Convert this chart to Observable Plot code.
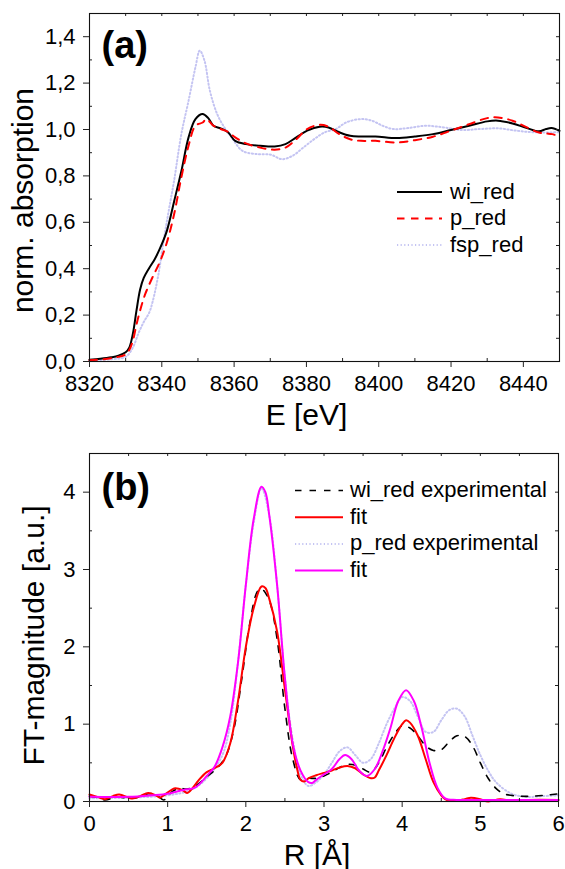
<!DOCTYPE html>
<html><head><meta charset="utf-8">
<script src="https://cdn.jsdelivr.net/npm/d3@7"></script>
<script src="https://cdn.jsdelivr.net/npm/@observablehq/plot@0.6"></script>
<style>
body{margin:0;background:#fff;}
#wrap{position:relative;width:565px;height:869px;}
#wrap svg{position:absolute;left:0;}
</style></head><body><div id="wrap"></div>
<script>
const FONT = '"Liberation Sans", Arial, Helvetica, sans-serif';

// ---------- Panel (a): XANES ----------
const wiRedE  = [8320,8323,8326,8328,8330,8331,8332,8333,8334,8335,8336.4,8338,8339.4,8341.4,8343.4,8345.4,8347.4,8349.3,8351.3,8352.8,8354.3,8356.3,8358.3,8360.3,8363.3,8367.2,8371.2,8374.2,8377.2,8380.2,8383.7,8386.1,8389.1,8392.1,8395.1,8399.1,8405,8410,8415,8420,8425,8430,8433,8437,8441,8444.3,8446.3,8447.8,8450];
const wiRedMu = [0.008,0.012,0.018,0.025,0.04,0.06,0.12,0.22,0.31,0.36,0.40,0.44,0.484,0.563,0.69,0.82,0.966,1.045,1.067,1.05,1.016,1.005,0.988,0.951,0.937,0.93,0.927,0.937,0.966,0.995,1.012,1.009,0.988,0.973,0.970,0.970,0.963,0.970,0.980,0.998,1.016,1.035,1.038,1.026,1.006,0.992,1.002,1.006,0.994];

const pRedE  = [8320,8325,8328,8330,8331,8332,8333,8334,8335.4,8337.4,8339.4,8341.4,8343.4,8345.4,8347.4,8349.3,8351.3,8352.3,8354.3,8356.3,8358.3,8360.3,8363.3,8367.2,8371.2,8374.2,8377.2,8380.2,8383.7,8386.1,8389.1,8392.1,8395.1,8399.1,8405,8410,8415,8420,8425,8430,8433,8437,8441,8444.3,8446.3,8448,8450];
const pRedMu = [0.005,0.012,0.02,0.03,0.05,0.09,0.16,0.22,0.29,0.362,0.427,0.513,0.635,0.793,0.93,1.016,1.03,1.045,1.016,1.002,0.99,0.966,0.94,0.922,0.913,0.922,0.958,1.002,1.02,1.012,0.98,0.958,0.951,0.951,0.944,0.954,0.969,0.995,1.023,1.049,1.052,1.038,1.009,0.987,0.983,0.98,0.969];

const fspRedE  = [8320,8326,8330,8332,8333.5,8335,8336.5,8337.5,8339,8340.5,8341.8,8343.4,8345.4,8347.4,8349.3,8350.5,8351.8,8353.3,8355.3,8357.3,8359.3,8362.3,8366.2,8370.2,8373.2,8376.2,8379.2,8382.2,8385.1,8388.1,8391.1,8395.1,8398.1,8401.1,8404,8408,8413,8418,8423,8428,8433,8438,8443,8450];
const fspRedMu = [0.005,0.01,0.02,0.06,0.12,0.17,0.21,0.26,0.37,0.52,0.64,0.78,0.98,1.124,1.268,1.34,1.297,1.167,1.067,1.009,0.966,0.908,0.894,0.891,0.872,0.887,0.923,0.959,0.988,1.002,1.031,1.045,1.038,1.016,1.002,1.006,1.016,1.009,0.998,1.002,1.005,0.995,0.988,0.988];

const aXDomain = [8320, 8450];
const aYDomain = [0, 1.5];
const aXTicks = [8320,8340,8360,8380,8400,8420,8440];
const aXMinor = [8330,8350,8370,8390,8410,8430,8450];
const aYTicks = [0,0.2,0.4,0.6,0.8,1.0,1.2,1.4];
const aYMinor = [0.1,0.3,0.5,0.7,0.9,1.1,1.3,1.5];
const aLegend = ["wi_red","p_red","fsp_red"];

// ---------- Panel (b): FT magnitude ----------
const wiExpR = [0,0.1,0.2,0.35,0.5,0.6,0.75,0.85,0.95,1.05,1.15,1.25,1.35,1.5,1.65,1.75,1.85,1.95,2.05,2.15,2.2,2.3,2.4,2.5,2.6,2.7,2.8,2.9,3.0,3.1,3.2,3.3,3.4,3.5,3.6,3.7,3.8,3.9,4.0,4.1,4.2,4.3,4.4,4.5,4.6,4.7,4.8,4.9,5.0,5.1,5.2,5.3,5.5,5.7,6.0];
const wiExpF = [0.07,0.05,0.02,0.06,0.04,0.05,0.10,0.09,0.02,0.12,0.17,0.16,0.20,0.32,0.45,0.60,0.95,1.60,2.30,2.72,2.75,2.60,2.10,1.20,0.55,0.28,0.30,0.30,0.33,0.38,0.44,0.48,0.47,0.42,0.38,0.50,0.70,0.87,0.98,0.95,0.85,0.72,0.66,0.67,0.77,0.85,0.84,0.72,0.50,0.30,0.17,0.10,0.07,0.07,0.10];

const wiFitR = [0,0.1,0.2,0.3,0.38,0.5,0.55,0.65,0.75,0.85,0.9,0.95,1.05,1.1,1.2,1.25,1.3,1.4,1.5,1.6,1.7,1.8,1.9,2.0,2.1,2.2,2.25,2.3,2.4,2.5,2.6,2.65,2.7,2.75,2.8,2.9,3.0,3.1,3.2,3.3,3.4,3.5,3.6,3.65,3.7,3.8,3.9,4.0,4.05,4.1,4.2,4.3,4.4,4.5,4.55,4.6,4.7,4.8,4.88,5.0,5.1,5.25,5.4,5.6,6.0];
const wiFitF = [0.09,0.06,0.03,0.07,0.09,0.05,0.04,0.07,0.11,0.08,0.05,0.08,0.15,0.17,0.14,0.11,0.15,0.28,0.38,0.43,0.50,0.75,1.30,2.00,2.50,2.78,2.76,2.62,2.20,1.45,0.72,0.45,0.28,0.26,0.30,0.34,0.37,0.40,0.44,0.46,0.43,0.35,0.30,0.31,0.40,0.60,0.82,1.00,1.05,1.02,0.85,0.55,0.25,0.08,0.03,0.01,0.01,0.03,0.05,0.03,0.00,0.03,0.01,0.02,0.02];

const pExpR = [0,0.5,1.0,1.3,1.5,1.7,1.8,1.9,2.0,2.1,2.2,2.3,2.4,2.5,2.6,2.7,2.8,2.9,3.0,3.1,3.2,3.3,3.4,3.5,3.6,3.7,3.8,3.9,4.0,4.1,4.2,4.3,4.4,4.5,4.6,4.7,4.8,4.9,5.0,5.1,5.2,5.4,5.6,5.8,6.0];
const pExpF = [0.04,0.05,0.08,0.15,0.30,0.60,1.00,1.80,2.80,3.60,4.05,3.70,2.80,1.60,0.80,0.35,0.20,0.25,0.35,0.50,0.65,0.70,0.60,0.50,0.55,0.75,1.00,1.20,1.35,1.30,1.10,0.90,0.90,1.05,1.18,1.20,1.10,0.85,0.60,0.40,0.25,0.10,0.06,0.07,0.08];

const pFitR = [0,0.5,0.8,1.0,1.2,1.35,1.5,1.6,1.7,1.8,1.9,2.0,2.1,2.2,2.25,2.3,2.4,2.5,2.6,2.7,2.8,2.85,2.9,3.0,3.1,3.2,3.27,3.35,3.45,3.55,3.65,3.75,3.85,3.95,4.05,4.15,4.25,4.35,4.45,4.55,4.7,5.0,6.0];
const pFitF = [0.06,0.06,0.08,0.10,0.15,0.18,0.33,0.45,0.70,1.10,1.80,2.80,3.65,4.07,4.00,3.70,2.80,1.60,0.75,0.40,0.25,0.24,0.28,0.35,0.42,0.55,0.60,0.55,0.40,0.33,0.42,0.65,0.95,1.30,1.44,1.30,0.95,0.50,0.18,0.04,0.02,0.02,0.02];

const bXDomain = [0, 6];
const bYDomain = [0, 4.5];
const bXTicks = [0,1,2,3,4,5,6];
const bXMinor = [0.5,1.5,2.5,3.5,4.5,5.5];
const bYTicks = [0,1,2,3,4];
const bYMinor = [0.5,1.5,2.5,3.5,4.5];
const bLegend = ["wi_red experimental","fit","p_red experimental","fit"];

// ---------- styles ----------
const BLACK = "#000", RED = "#ff0000", MAGENTA = "#ff00ff", PALE = "#c4c4f2";
const DOT = "1.2,2.4";

function zip(xs, ys, s) { return xs.map((x, i) => ({x, y: ys[i], s})); }

function framePieces(xAll, xMinor, yAll, yMinor, FW, FH) {
  const st = {stroke: "#222", strokeWidth: 1};
  return [
    Plot.tickX(xAll, {x: d => d, insetBottom: FH - 3, ...st}),
    Plot.tickX(xMinor, {x: d => d, insetTop: FH - 3, ...st}),
    Plot.tickY(yAll, {y: d => d, insetLeft: FW - 3, ...st}),
    Plot.tickY(yMinor, {y: d => d, insetRight: FW - 3, ...st}),
    Plot.frame({stroke: "#111", strokeWidth: 1.1})
  ];
}

function addLegend(svg, items, x1, x2, tx, baselines) {
  const g = d3.select(svg).append("g")
    .attr("font-family", FONT).attr("font-size", 22).attr("text-anchor", "start");
  items.forEach((it, i) => {
    const yl = baselines[i] - 6.5;
    g.append("line").attr("x1", x1).attr("x2", x2).attr("y1", yl).attr("y2", yl)
      .attr("stroke", it.color).attr("stroke-width", it.width)
      .attr("stroke-dasharray", it.dash || null);
    g.append("text").attr("x", tx).attr("y", baselines[i]).attr("fill", "#000")
      .attr("text-anchor", "start").text(it.label);
  });
}

const wrap = document.getElementById("wrap");

// ---------- Plot (a) ----------
const aW = 565, aH = 440, aML = 89, aMR = 6, aMT = 13, aMB = 79;
const aFW = aW - aML - aMR, aFH = aH - aMT - aMB;
const aData = [
  ...zip(wiRedE, wiRedMu, aLegend[0]),
  ...zip(pRedE, pRedMu, aLegend[1]),
  ...zip(fspRedE, fspRedMu, aLegend[2])
];
const plotA = Plot.plot({
  width: aW, height: aH,
  marginLeft: aML, marginRight: aMR, marginTop: aMT, marginBottom: aMB,
  style: {fontFamily: FONT, color: "#000", background: "transparent", overflow: "visible"},
  x: {domain: aXDomain},
  y: {domain: aYDomain},
  marks: [
    Plot.line(aData.filter(d => d.s === aLegend[2]), {x: "x", y: "y", stroke: PALE, strokeWidth: 2, strokeDasharray: DOT, curve: "catmull-rom"}),
    Plot.line(aData.filter(d => d.s === aLegend[0]), {x: "x", y: "y", stroke: BLACK, strokeWidth: 2, curve: "catmull-rom"}),
    Plot.line(aData.filter(d => d.s === aLegend[1]), {x: "x", y: "y", stroke: RED, strokeWidth: 2, strokeDasharray: "7.5,6.5", curve: "catmull-rom"}),
    ...framePieces([...aXTicks, ...aXMinor], aXMinor, [...aYTicks, ...aYMinor], aYMinor, aFW, aFH),
    Plot.axisX(aXTicks, {tickSize: 6, tickPadding: 8, fontSize: 22, label: null, tickFormat: d => String(d), stroke: "#222"}),
    Plot.axisY(aYTicks, {tickSize: 6, tickPadding: 8, fontSize: 22, label: null, tickFormat: d => d.toFixed(1).replace(".", ","), stroke: "#222"}),
    Plot.text(["E [eV]"], {frameAnchor: "bottom", text: d => d, dx: -18, dy: 63, lineAnchor: "bottom", fontSize: 30, fill: "#000"}),
    Plot.text(["norm. absorption"], {frameAnchor: "left", text: d => d, rotate: -90, dx: -57, dy: 13, lineAnchor: "bottom", textAnchor: "middle", fontSize: 30, fill: "#000"}),
    Plot.text(["(a)"], {frameAnchor: "top-left", text: d => d, dx: 12, dy: 44, textAnchor: "start", lineAnchor: "bottom", fontSize: 38, fontWeight: "bold", fill: "#000"})
  ]
});
plotA.style.top = "0px";
addLegend(plotA, [
  {label: aLegend[0], color: BLACK, width: 2},
  {label: aLegend[1], color: RED, width: 2, dash: "7.5,6.5"},
  {label: aLegend[2], color: PALE, width: 2, dash: DOT}
], 397, 442, 450, [198.5, 225, 251.5]);
wrap.appendChild(plotA);

// ---------- Plot (b) ----------
const bTop = 440;
const bW = 565, bH = 429, bML = 89, bMR = 7, bMT = 13, bMB = 68;
const bFW = bW - bML - bMR, bFH = bH - bMT - bMB;
const bData = [
  ...zip(wiExpR, wiExpF, "wiExp"),
  ...zip(wiFitR, wiFitF, "wiFit"),
  ...zip(pExpR, pExpF, "pExp"),
  ...zip(pFitR, pFitF, "pFit")
];
const plotB = Plot.plot({
  width: bW, height: bH,
  marginLeft: bML, marginRight: bMR, marginTop: bMT, marginBottom: bMB,
  style: {fontFamily: FONT, color: "#000", background: "transparent", overflow: "visible"},
  x: {domain: bXDomain},
  y: {domain: bYDomain},
  marks: [
    Plot.line(bData.filter(d => d.s === "pExp"), {x: "x", y: "y", stroke: PALE, strokeWidth: 2, strokeDasharray: DOT, curve: "catmull-rom"}),
    Plot.line(bData.filter(d => d.s === "wiExp"), {x: "x", y: "y", stroke: BLACK, strokeWidth: 1.6, strokeDasharray: "6.5,8", curve: "catmull-rom"}),
    Plot.line(bData.filter(d => d.s === "wiFit"), {x: "x", y: "y", stroke: RED, strokeWidth: 2, curve: "catmull-rom"}),
    Plot.line(bData.filter(d => d.s === "pFit"), {x: "x", y: "y", stroke: MAGENTA, strokeWidth: 2, curve: "catmull-rom"}),
    ...framePieces([...bXTicks, ...bXMinor], bXMinor, [...bYTicks, ...bYMinor], bYMinor, bFW, bFH),
    Plot.axisX(bXTicks, {tickSize: 6, tickPadding: 8, fontSize: 22, label: null, tickFormat: d => String(d), stroke: "#222"}),
    Plot.axisY(bYTicks, {tickSize: 6, tickPadding: 8, fontSize: 22, label: null, tickFormat: d => String(d), stroke: "#222"}),
    Plot.text(["R [Å]"], {frameAnchor: "bottom", text: d => d, dx: -7, dy: 63, lineAnchor: "bottom", fontSize: 30, fill: "#000"}),
    Plot.text(["FT-magnitude [a.u.]"], {frameAnchor: "left", text: d => d, rotate: -90, dx: -46, dy: 8, lineAnchor: "bottom", textAnchor: "middle", fontSize: 30, fill: "#000"}),
    Plot.text(["(b)"], {frameAnchor: "top-left", text: d => d, dx: 12, dy: 46, textAnchor: "start", lineAnchor: "bottom", fontSize: 38, fontWeight: "bold", fill: "#000"})
  ]
});
plotB.style.top = bTop + "px";
addLegend(plotB, [
  {label: bLegend[0], color: BLACK, width: 1.6, dash: "6.5,8"},
  {label: bLegend[1], color: RED, width: 2},
  {label: bLegend[2], color: PALE, width: 2, dash: DOT},
  {label: bLegend[3], color: MAGENTA, width: 2}
], 295, 343, 350, [57, 83.7, 110.4, 137]);
wrap.appendChild(plotB);
</script></body></html>
